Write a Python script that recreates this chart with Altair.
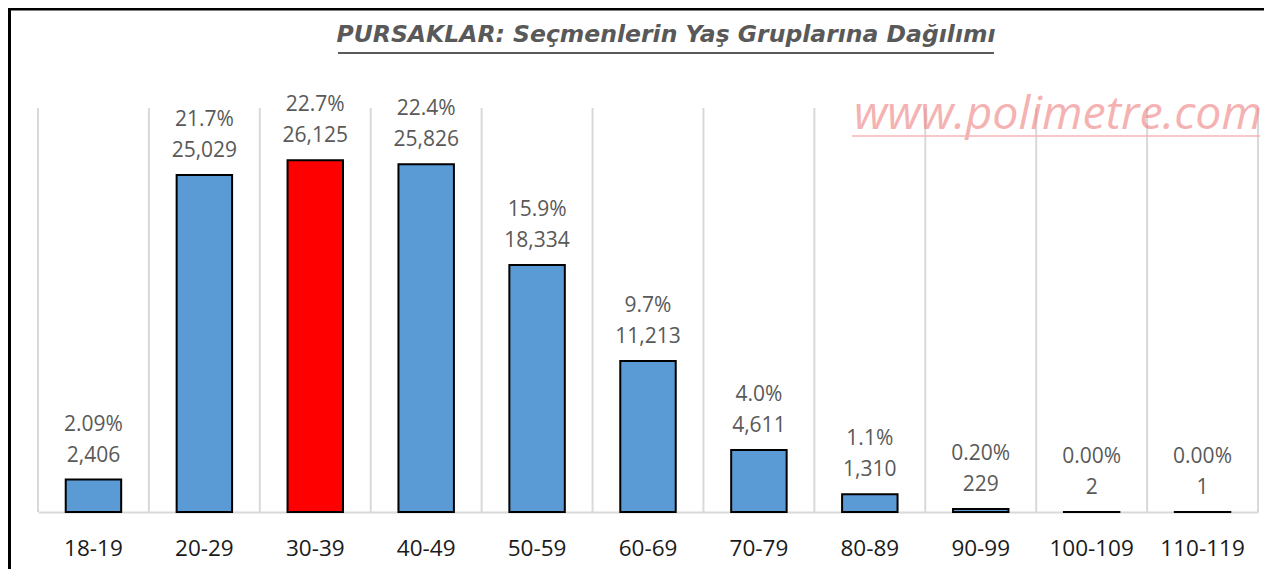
import altair as alt
import pandas as pd

categories = ["18-19", "20-29", "30-39", "40-49", "50-59", "60-69",
              "70-79", "80-89", "90-99", "100-109", "110-119"]
counts = [2406, 25029, 26125, 25826, 18334, 11213, 4611, 1310, 229, 2, 1]
pct_labels = ["2.09%", "21.7%", "22.7%", "22.4%", "15.9%", "9.7%",
              "4.0%", "1.1%", "0.20%", "0.00%", "0.00%"]
highlight = "30-39"
title_text = "PURSAKLAR: Seçmenlerin Yaş Gruplarına Dağılımı"
watermark_text = "www.polimetre.com"

W, H = 1220, 404

df = pd.DataFrame({"cat": categories, "count": counts, "pct": pct_labels})
df["hl"] = df["cat"] == highlight

xscale = alt.Scale(domain=categories, paddingInner=0, paddingOuter=0)
yscale = alt.Scale(domain=[0, 30000], nice=False, zero=True)
xaxis = alt.Axis(title=None, labelAngle=0, ticks=False, tickSize=0,
                 labelPadding=36, labelBaseline="middle", labelFontSize=22.5,
                 labelFont="Open Sans", labelColor="#1a1a1a",
                 domainColor="#d9d9d9", domainWidth=2, grid=False)


def xenc(**kw):
    return alt.X("cat:N", scale=xscale, axis=xaxis, sort=categories, **kw)


yenc = alt.Y("count:Q", scale=yscale, axis=None)

base = alt.Chart(df)

grid = base.mark_rule(color="#d9d9d9", strokeWidth=2).encode(
    x=xenc(bandPosition=0), y=alt.value(0), y2=alt.value(H))

one = pd.DataFrame({"t": [title_text]})
wm = pd.DataFrame({"t": [watermark_text]})

right_grid = alt.Chart(one).mark_rule(color="#d9d9d9", strokeWidth=2).encode(
    x=alt.value(W), y=alt.value(0), y2=alt.value(H))

bars = base.mark_bar(width=alt.RelativeBandSize(0.5), stroke="black",
                     strokeWidth=2).encode(
    x=xenc(), y=yenc,
    color=alt.condition(alt.datum.hl, alt.value("#ff0000"), alt.value("#5b9bd5")))

count_txt = base.mark_text(dy=-24, baseline="middle", fontSize=21,
                           font="Open Sans", color="#595959").encode(
    x=xenc(), y=yenc, text=alt.Text("count:Q", format=","))

pct_txt = base.mark_text(dy=-55, baseline="middle", fontSize=21,
                         font="Open Sans", color="#595959").encode(
    x=xenc(), y=yenc, text=alt.Text("pct:N"))

title = alt.Chart(one).mark_text(font="DejaVu Sans", fontSize=23.5, fontWeight="bold",
                                 fontStyle="italic", color="#595959",
                                 align="center", baseline="alphabetic").encode(
    x=alt.value(628), y=alt.value(-66), text="t:N")

title_ul = alt.Chart(one).mark_rule(color="#595959", strokeWidth=2).encode(
    x=alt.value(300), x2=alt.value(956), y=alt.value(-55))

watermark = alt.Chart(wm).mark_text(font="Open Sans", fontSize=46.5,
                                    fontStyle="italic", color="#f08080",
                                    opacity=0.6, align="right",
                                    baseline="alphabetic").encode(
    x=alt.value(1224), y=alt.value(21), text="t:N")

wm_ul = alt.Chart(wm).mark_rule(color="#f7b4b4", strokeWidth=1.5).encode(
    x=alt.value(814), x2=alt.value(1222), y=alt.value(28))

border_top = alt.Chart(one).mark_rule(color="black", strokeWidth=3).encode(
    x=alt.value(-30), x2=alt.value(W + 6), y=alt.value(-99))
border_left = alt.Chart(one).mark_rule(color="black", strokeWidth=3).encode(
    x=alt.value(-28.5), y=alt.value(-100), y2=alt.value(H + 57))

chart = alt.layer(
    grid, right_grid, bars, count_txt, pct_txt,
    title, title_ul, watermark, wm_ul, border_top, border_left
).properties(
    width=W, height=H,
    padding={"left": 30, "top": 100, "right": 6, "bottom": 57},
    autosize=alt.AutoSizeParams(type="none"),
    background="white",
).configure_view(stroke=None)

chart.save("out.html", embed_options={"renderer": "svg", "actions": False})
